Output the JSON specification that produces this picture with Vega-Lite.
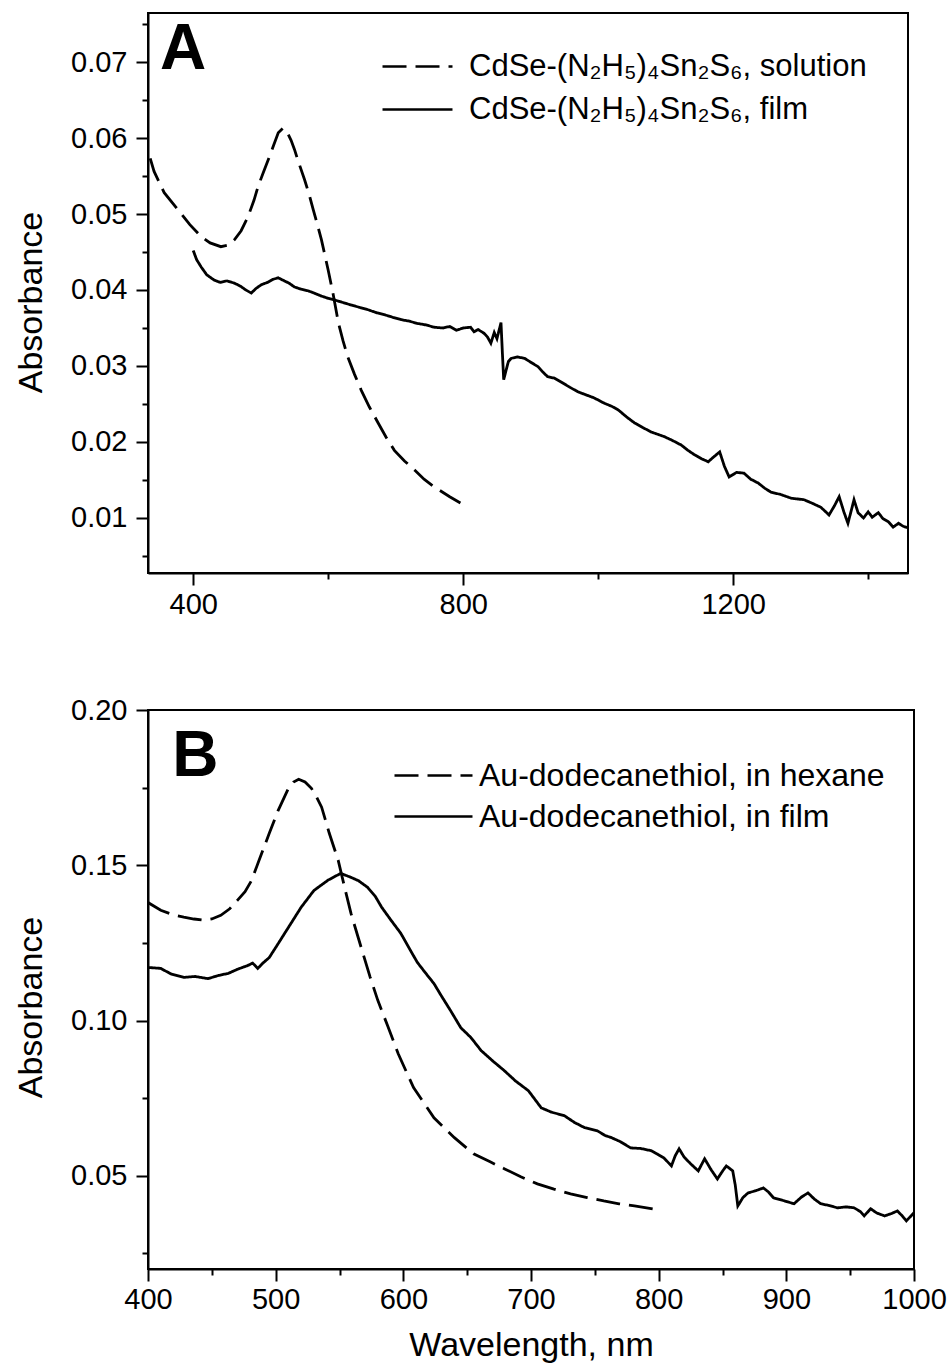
{
  "$schema": "https://vega.github.io/schema/vega-lite/v6.json",
  "padding": {"left": 13, "top": 9, "right": 5, "bottom": 5},
  "spacing": 75,
  "resolve": {"scale": {"strokeDash": "independent"}, "legend": {"strokeDash": "independent"}},
  "config": {
    "font": "Liberation Sans",
    "view": {"stroke": "black", "strokeWidth": 2},
    "axis": {
      "domainColor": "black", "domainWidth": 2, "tickColor": "black", "tickWidth": 2, "tickCount": 60,
      "labelFontSize": 29, "labelColor": "black", "labelFont": "Liberation Sans",
      "titleFontSize": 34, "titleFontWeight": "normal", "titleColor": "black", "titleFont": "Liberation Sans",
      "grid": false, "labelFlush": false, "labelOverlap": false
    },
    "legend": {
      "orient": "none", "title": null, "labelFontSize": 31, "labelFont": "Liberation Sans", "labelColor": "black",
      "symbolStrokeWidth": 2.5, "symbolStrokeColor": "black", "labelLimit": 0, "padding": 0
    }
  },
  "datasets": {
    "A": [
      {"series": "CdSe-(N₂H₅)₄Sn₂S₆, solution", "wl": 323, "abs": 0.0615},
      {"series": "CdSe-(N₂H₅)₄Sn₂S₆, solution", "wl": 330, "abs": 0.0592},
      {"series": "CdSe-(N₂H₅)₄Sn₂S₆, solution", "wl": 342, "abs": 0.0556},
      {"series": "CdSe-(N₂H₅)₄Sn₂S₆, solution", "wl": 357, "abs": 0.0528},
      {"series": "CdSe-(N₂H₅)₄Sn₂S₆, solution", "wl": 378, "abs": 0.0505},
      {"series": "CdSe-(N₂H₅)₄Sn₂S₆, solution", "wl": 395, "abs": 0.0486},
      {"series": "CdSe-(N₂H₅)₄Sn₂S₆, solution", "wl": 412, "abs": 0.0470},
      {"series": "CdSe-(N₂H₅)₄Sn₂S₆, solution", "wl": 425, "abs": 0.0462},
      {"series": "CdSe-(N₂H₅)₄Sn₂S₆, solution", "wl": 441, "abs": 0.0457},
      {"series": "CdSe-(N₂H₅)₄Sn₂S₆, solution", "wl": 452, "abs": 0.0459},
      {"series": "CdSe-(N₂H₅)₄Sn₂S₆, solution", "wl": 461, "abs": 0.0466},
      {"series": "CdSe-(N₂H₅)₄Sn₂S₆, solution", "wl": 471, "abs": 0.0478},
      {"series": "CdSe-(N₂H₅)₄Sn₂S₆, solution", "wl": 481, "abs": 0.0496},
      {"series": "CdSe-(N₂H₅)₄Sn₂S₆, solution", "wl": 490, "abs": 0.0518},
      {"series": "CdSe-(N₂H₅)₄Sn₂S₆, solution", "wl": 496, "abs": 0.0536},
      {"series": "CdSe-(N₂H₅)₄Sn₂S₆, solution", "wl": 504, "abs": 0.0555},
      {"series": "CdSe-(N₂H₅)₄Sn₂S₆, solution", "wl": 511, "abs": 0.0571},
      {"series": "CdSe-(N₂H₅)₄Sn₂S₆, solution", "wl": 519, "abs": 0.0590},
      {"series": "CdSe-(N₂H₅)₄Sn₂S₆, solution", "wl": 526, "abs": 0.0607},
      {"series": "CdSe-(N₂H₅)₄Sn₂S₆, solution", "wl": 533, "abs": 0.0613},
      {"series": "CdSe-(N₂H₅)₄Sn₂S₆, solution", "wl": 540, "abs": 0.0606},
      {"series": "CdSe-(N₂H₅)₄Sn₂S₆, solution", "wl": 545, "abs": 0.0597},
      {"series": "CdSe-(N₂H₅)₄Sn₂S₆, solution", "wl": 550, "abs": 0.0585},
      {"series": "CdSe-(N₂H₅)₄Sn₂S₆, solution", "wl": 555, "abs": 0.0571},
      {"series": "CdSe-(N₂H₅)₄Sn₂S₆, solution", "wl": 565, "abs": 0.0545},
      {"series": "CdSe-(N₂H₅)₄Sn₂S₆, solution", "wl": 572, "abs": 0.0525},
      {"series": "CdSe-(N₂H₅)₄Sn₂S₆, solution", "wl": 578, "abs": 0.0505},
      {"series": "CdSe-(N₂H₅)₄Sn₂S₆, solution", "wl": 584, "abs": 0.0486},
      {"series": "CdSe-(N₂H₅)₄Sn₂S₆, solution", "wl": 590, "abs": 0.0466},
      {"series": "CdSe-(N₂H₅)₄Sn₂S₆, solution", "wl": 600, "abs": 0.0426},
      {"series": "CdSe-(N₂H₅)₄Sn₂S₆, solution", "wl": 607, "abs": 0.0396},
      {"series": "CdSe-(N₂H₅)₄Sn₂S₆, solution", "wl": 615, "abs": 0.0357},
      {"series": "CdSe-(N₂H₅)₄Sn₂S₆, solution", "wl": 622, "abs": 0.0333},
      {"series": "CdSe-(N₂H₅)₄Sn₂S₆, solution", "wl": 629, "abs": 0.0312},
      {"series": "CdSe-(N₂H₅)₄Sn₂S₆, solution", "wl": 639, "abs": 0.0289},
      {"series": "CdSe-(N₂H₅)₄Sn₂S₆, solution", "wl": 649, "abs": 0.0268},
      {"series": "CdSe-(N₂H₅)₄Sn₂S₆, solution", "wl": 661, "abs": 0.0246},
      {"series": "CdSe-(N₂H₅)₄Sn₂S₆, solution", "wl": 674, "abs": 0.0225},
      {"series": "CdSe-(N₂H₅)₄Sn₂S₆, solution", "wl": 686, "abs": 0.0206},
      {"series": "CdSe-(N₂H₅)₄Sn₂S₆, solution", "wl": 698, "abs": 0.0189},
      {"series": "CdSe-(N₂H₅)₄Sn₂S₆, solution", "wl": 713, "abs": 0.0175},
      {"series": "CdSe-(N₂H₅)₄Sn₂S₆, solution", "wl": 728, "abs": 0.0163},
      {"series": "CdSe-(N₂H₅)₄Sn₂S₆, solution", "wl": 742, "abs": 0.0151},
      {"series": "CdSe-(N₂H₅)₄Sn₂S₆, solution", "wl": 757, "abs": 0.0141},
      {"series": "CdSe-(N₂H₅)₄Sn₂S₆, solution", "wl": 780, "abs": 0.0128},
      {"series": "CdSe-(N₂H₅)₄Sn₂S₆, solution", "wl": 801, "abs": 0.0117},
      {"series": "CdSe-(N₂H₅)₄Sn₂S₆, film", "wl": 400, "abs": 0.0452},
      {"series": "CdSe-(N₂H₅)₄Sn₂S₆, film", "wl": 405, "abs": 0.0440},
      {"series": "CdSe-(N₂H₅)₄Sn₂S₆, film", "wl": 412, "abs": 0.0430},
      {"series": "CdSe-(N₂H₅)₄Sn₂S₆, film", "wl": 420, "abs": 0.0420},
      {"series": "CdSe-(N₂H₅)₄Sn₂S₆, film", "wl": 431, "abs": 0.0413},
      {"series": "CdSe-(N₂H₅)₄Sn₂S₆, film", "wl": 440, "abs": 0.0410},
      {"series": "CdSe-(N₂H₅)₄Sn₂S₆, film", "wl": 450, "abs": 0.0412},
      {"series": "CdSe-(N₂H₅)₄Sn₂S₆, film", "wl": 461, "abs": 0.0409},
      {"series": "CdSe-(N₂H₅)₄Sn₂S₆, film", "wl": 470, "abs": 0.0405},
      {"series": "CdSe-(N₂H₅)₄Sn₂S₆, film", "wl": 478, "abs": 0.0400},
      {"series": "CdSe-(N₂H₅)₄Sn₂S₆, film", "wl": 486, "abs": 0.0396},
      {"series": "CdSe-(N₂H₅)₄Sn₂S₆, film", "wl": 493, "abs": 0.0402},
      {"series": "CdSe-(N₂H₅)₄Sn₂S₆, film", "wl": 501, "abs": 0.0407},
      {"series": "CdSe-(N₂H₅)₄Sn₂S₆, film", "wl": 510, "abs": 0.0410},
      {"series": "CdSe-(N₂H₅)₄Sn₂S₆, film", "wl": 518, "abs": 0.0414},
      {"series": "CdSe-(N₂H₅)₄Sn₂S₆, film", "wl": 526, "abs": 0.0416},
      {"series": "CdSe-(N₂H₅)₄Sn₂S₆, film", "wl": 535, "abs": 0.0412},
      {"series": "CdSe-(N₂H₅)₄Sn₂S₆, film", "wl": 542, "abs": 0.0409},
      {"series": "CdSe-(N₂H₅)₄Sn₂S₆, film", "wl": 550, "abs": 0.0404},
      {"series": "CdSe-(N₂H₅)₄Sn₂S₆, film", "wl": 560, "abs": 0.0401},
      {"series": "CdSe-(N₂H₅)₄Sn₂S₆, film", "wl": 570, "abs": 0.0399},
      {"series": "CdSe-(N₂H₅)₄Sn₂S₆, film", "wl": 579, "abs": 0.0396},
      {"series": "CdSe-(N₂H₅)₄Sn₂S₆, film", "wl": 590, "abs": 0.0392},
      {"series": "CdSe-(N₂H₅)₄Sn₂S₆, film", "wl": 600, "abs": 0.0389},
      {"series": "CdSe-(N₂H₅)₄Sn₂S₆, film", "wl": 609, "abs": 0.0387},
      {"series": "CdSe-(N₂H₅)₄Sn₂S₆, film", "wl": 620, "abs": 0.0384},
      {"series": "CdSe-(N₂H₅)₄Sn₂S₆, film", "wl": 635, "abs": 0.0380},
      {"series": "CdSe-(N₂H₅)₄Sn₂S₆, film", "wl": 647, "abs": 0.0377},
      {"series": "CdSe-(N₂H₅)₄Sn₂S₆, film", "wl": 659, "abs": 0.0374},
      {"series": "CdSe-(N₂H₅)₄Sn₂S₆, film", "wl": 672, "abs": 0.0370},
      {"series": "CdSe-(N₂H₅)₄Sn₂S₆, film", "wl": 685, "abs": 0.0367},
      {"series": "CdSe-(N₂H₅)₄Sn₂S₆, film", "wl": 696, "abs": 0.0364},
      {"series": "CdSe-(N₂H₅)₄Sn₂S₆, film", "wl": 708, "abs": 0.0361},
      {"series": "CdSe-(N₂H₅)₄Sn₂S₆, film", "wl": 720, "abs": 0.0359},
      {"series": "CdSe-(N₂H₅)₄Sn₂S₆, film", "wl": 732, "abs": 0.0356},
      {"series": "CdSe-(N₂H₅)₄Sn₂S₆, film", "wl": 745, "abs": 0.0354},
      {"series": "CdSe-(N₂H₅)₄Sn₂S₆, film", "wl": 757, "abs": 0.0351},
      {"series": "CdSe-(N₂H₅)₄Sn₂S₆, film", "wl": 770, "abs": 0.0350},
      {"series": "CdSe-(N₂H₅)₄Sn₂S₆, film", "wl": 780, "abs": 0.0352},
      {"series": "CdSe-(N₂H₅)₄Sn₂S₆, film", "wl": 790, "abs": 0.0347},
      {"series": "CdSe-(N₂H₅)₄Sn₂S₆, film", "wl": 800, "abs": 0.0350},
      {"series": "CdSe-(N₂H₅)₄Sn₂S₆, film", "wl": 811, "abs": 0.0351},
      {"series": "CdSe-(N₂H₅)₄Sn₂S₆, film", "wl": 816, "abs": 0.0345},
      {"series": "CdSe-(N₂H₅)₄Sn₂S₆, film", "wl": 822, "abs": 0.0348},
      {"series": "CdSe-(N₂H₅)₄Sn₂S₆, film", "wl": 831, "abs": 0.0343},
      {"series": "CdSe-(N₂H₅)₄Sn₂S₆, film", "wl": 836, "abs": 0.0338},
      {"series": "CdSe-(N₂H₅)₄Sn₂S₆, film", "wl": 841, "abs": 0.0330},
      {"series": "CdSe-(N₂H₅)₄Sn₂S₆, film", "wl": 846, "abs": 0.0344},
      {"series": "CdSe-(N₂H₅)₄Sn₂S₆, film", "wl": 850, "abs": 0.0336},
      {"series": "CdSe-(N₂H₅)₄Sn₂S₆, film", "wl": 856, "abs": 0.0357},
      {"series": "CdSe-(N₂H₅)₄Sn₂S₆, film", "wl": 858, "abs": 0.0318},
      {"series": "CdSe-(N₂H₅)₄Sn₂S₆, film", "wl": 860, "abs": 0.0282},
      {"series": "CdSe-(N₂H₅)₄Sn₂S₆, film", "wl": 864, "abs": 0.0296},
      {"series": "CdSe-(N₂H₅)₄Sn₂S₆, film", "wl": 867, "abs": 0.0306},
      {"series": "CdSe-(N₂H₅)₄Sn₂S₆, film", "wl": 871, "abs": 0.0310},
      {"series": "CdSe-(N₂H₅)₄Sn₂S₆, film", "wl": 880, "abs": 0.0312},
      {"series": "CdSe-(N₂H₅)₄Sn₂S₆, film", "wl": 891, "abs": 0.0310},
      {"series": "CdSe-(N₂H₅)₄Sn₂S₆, film", "wl": 900, "abs": 0.0305},
      {"series": "CdSe-(N₂H₅)₄Sn₂S₆, film", "wl": 911, "abs": 0.0299},
      {"series": "CdSe-(N₂H₅)₄Sn₂S₆, film", "wl": 918, "abs": 0.0292},
      {"series": "CdSe-(N₂H₅)₄Sn₂S₆, film", "wl": 925, "abs": 0.0286},
      {"series": "CdSe-(N₂H₅)₄Sn₂S₆, film", "wl": 935, "abs": 0.0284},
      {"series": "CdSe-(N₂H₅)₄Sn₂S₆, film", "wl": 945, "abs": 0.0279},
      {"series": "CdSe-(N₂H₅)₄Sn₂S₆, film", "wl": 958, "abs": 0.0272},
      {"series": "CdSe-(N₂H₅)₄Sn₂S₆, film", "wl": 970, "abs": 0.0266},
      {"series": "CdSe-(N₂H₅)₄Sn₂S₆, film", "wl": 982, "abs": 0.0262},
      {"series": "CdSe-(N₂H₅)₄Sn₂S₆, film", "wl": 994, "abs": 0.0258},
      {"series": "CdSe-(N₂H₅)₄Sn₂S₆, film", "wl": 1009, "abs": 0.0251},
      {"series": "CdSe-(N₂H₅)₄Sn₂S₆, film", "wl": 1020, "abs": 0.0247},
      {"series": "CdSe-(N₂H₅)₄Sn₂S₆, film", "wl": 1030, "abs": 0.0242},
      {"series": "CdSe-(N₂H₅)₄Sn₂S₆, film", "wl": 1042, "abs": 0.0233},
      {"series": "CdSe-(N₂H₅)₄Sn₂S₆, film", "wl": 1054, "abs": 0.0225},
      {"series": "CdSe-(N₂H₅)₄Sn₂S₆, film", "wl": 1066, "abs": 0.0219},
      {"series": "CdSe-(N₂H₅)₄Sn₂S₆, film", "wl": 1079, "abs": 0.0213},
      {"series": "CdSe-(N₂H₅)₄Sn₂S₆, film", "wl": 1098, "abs": 0.0207},
      {"series": "CdSe-(N₂H₅)₄Sn₂S₆, film", "wl": 1110, "abs": 0.0202},
      {"series": "CdSe-(N₂H₅)₄Sn₂S₆, film", "wl": 1123, "abs": 0.0196},
      {"series": "CdSe-(N₂H₅)₄Sn₂S₆, film", "wl": 1133, "abs": 0.0189},
      {"series": "CdSe-(N₂H₅)₄Sn₂S₆, film", "wl": 1143, "abs": 0.0183},
      {"series": "CdSe-(N₂H₅)₄Sn₂S₆, film", "wl": 1153, "abs": 0.0178},
      {"series": "CdSe-(N₂H₅)₄Sn₂S₆, film", "wl": 1163, "abs": 0.0174},
      {"series": "CdSe-(N₂H₅)₄Sn₂S₆, film", "wl": 1172, "abs": 0.0181},
      {"series": "CdSe-(N₂H₅)₄Sn₂S₆, film", "wl": 1180, "abs": 0.0187},
      {"series": "CdSe-(N₂H₅)₄Sn₂S₆, film", "wl": 1187, "abs": 0.0168},
      {"series": "CdSe-(N₂H₅)₄Sn₂S₆, film", "wl": 1194, "abs": 0.0154},
      {"series": "CdSe-(N₂H₅)₄Sn₂S₆, film", "wl": 1205, "abs": 0.0160},
      {"series": "CdSe-(N₂H₅)₄Sn₂S₆, film", "wl": 1216, "abs": 0.0159},
      {"series": "CdSe-(N₂H₅)₄Sn₂S₆, film", "wl": 1226, "abs": 0.0151},
      {"series": "CdSe-(N₂H₅)₄Sn₂S₆, film", "wl": 1237, "abs": 0.0146},
      {"series": "CdSe-(N₂H₅)₄Sn₂S₆, film", "wl": 1247, "abs": 0.0139},
      {"series": "CdSe-(N₂H₅)₄Sn₂S₆, film", "wl": 1256, "abs": 0.0134},
      {"series": "CdSe-(N₂H₅)₄Sn₂S₆, film", "wl": 1270, "abs": 0.0131},
      {"series": "CdSe-(N₂H₅)₄Sn₂S₆, film", "wl": 1286, "abs": 0.0126},
      {"series": "CdSe-(N₂H₅)₄Sn₂S₆, film", "wl": 1305, "abs": 0.0124},
      {"series": "CdSe-(N₂H₅)₄Sn₂S₆, film", "wl": 1318, "abs": 0.0119},
      {"series": "CdSe-(N₂H₅)₄Sn₂S₆, film", "wl": 1330, "abs": 0.0114},
      {"series": "CdSe-(N₂H₅)₄Sn₂S₆, film", "wl": 1342, "abs": 0.0104},
      {"series": "CdSe-(N₂H₅)₄Sn₂S₆, film", "wl": 1350, "abs": 0.0116},
      {"series": "CdSe-(N₂H₅)₄Sn₂S₆, film", "wl": 1357, "abs": 0.0128},
      {"series": "CdSe-(N₂H₅)₄Sn₂S₆, film", "wl": 1364, "abs": 0.0108},
      {"series": "CdSe-(N₂H₅)₄Sn₂S₆, film", "wl": 1370, "abs": 0.0093},
      {"series": "CdSe-(N₂H₅)₄Sn₂S₆, film", "wl": 1375, "abs": 0.0110},
      {"series": "CdSe-(N₂H₅)₄Sn₂S₆, film", "wl": 1379, "abs": 0.0124},
      {"series": "CdSe-(N₂H₅)₄Sn₂S₆, film", "wl": 1385, "abs": 0.0107},
      {"series": "CdSe-(N₂H₅)₄Sn₂S₆, film", "wl": 1393, "abs": 0.0100},
      {"series": "CdSe-(N₂H₅)₄Sn₂S₆, film", "wl": 1400, "abs": 0.0108},
      {"series": "CdSe-(N₂H₅)₄Sn₂S₆, film", "wl": 1406, "abs": 0.0101},
      {"series": "CdSe-(N₂H₅)₄Sn₂S₆, film", "wl": 1415, "abs": 0.0107},
      {"series": "CdSe-(N₂H₅)₄Sn₂S₆, film", "wl": 1422, "abs": 0.0099},
      {"series": "CdSe-(N₂H₅)₄Sn₂S₆, film", "wl": 1430, "abs": 0.0095},
      {"series": "CdSe-(N₂H₅)₄Sn₂S₆, film", "wl": 1437, "abs": 0.0088},
      {"series": "CdSe-(N₂H₅)₄Sn₂S₆, film", "wl": 1445, "abs": 0.0093},
      {"series": "CdSe-(N₂H₅)₄Sn₂S₆, film", "wl": 1452, "abs": 0.0089},
      {"series": "CdSe-(N₂H₅)₄Sn₂S₆, film", "wl": 1459, "abs": 0.0087}
    ],
    "B": [
      {"series": "Au-dodecanethiol, in hexane", "wl": 400, "abs": 0.1380},
      {"series": "Au-dodecanethiol, in hexane", "wl": 410, "abs": 0.1355},
      {"series": "Au-dodecanethiol, in hexane", "wl": 420, "abs": 0.1340},
      {"series": "Au-dodecanethiol, in hexane", "wl": 428, "abs": 0.1333},
      {"series": "Au-dodecanethiol, in hexane", "wl": 436, "abs": 0.1327},
      {"series": "Au-dodecanethiol, in hexane", "wl": 444, "abs": 0.1323},
      {"series": "Au-dodecanethiol, in hexane", "wl": 450, "abs": 0.1327},
      {"series": "Au-dodecanethiol, in hexane", "wl": 457, "abs": 0.1339},
      {"series": "Au-dodecanethiol, in hexane", "wl": 464, "abs": 0.1360},
      {"series": "Au-dodecanethiol, in hexane", "wl": 470, "abs": 0.1387},
      {"series": "Au-dodecanethiol, in hexane", "wl": 476, "abs": 0.1415},
      {"series": "Au-dodecanethiol, in hexane", "wl": 481, "abs": 0.1450},
      {"series": "Au-dodecanethiol, in hexane", "wl": 487, "abs": 0.1516},
      {"series": "Au-dodecanethiol, in hexane", "wl": 495, "abs": 0.1603},
      {"series": "Au-dodecanethiol, in hexane", "wl": 502, "abs": 0.1677},
      {"series": "Au-dodecanethiol, in hexane", "wl": 510, "abs": 0.1748},
      {"series": "Au-dodecanethiol, in hexane", "wl": 514, "abs": 0.1768},
      {"series": "Au-dodecanethiol, in hexane", "wl": 518, "abs": 0.1777},
      {"series": "Au-dodecanethiol, in hexane", "wl": 523, "abs": 0.1768},
      {"series": "Au-dodecanethiol, in hexane", "wl": 528, "abs": 0.1748},
      {"series": "Au-dodecanethiol, in hexane", "wl": 532, "abs": 0.1720},
      {"series": "Au-dodecanethiol, in hexane", "wl": 536, "abs": 0.1687},
      {"series": "Au-dodecanethiol, in hexane", "wl": 542, "abs": 0.1603},
      {"series": "Au-dodecanethiol, in hexane", "wl": 549, "abs": 0.1516},
      {"series": "Au-dodecanethiol, in hexane", "wl": 554, "abs": 0.1429},
      {"series": "Au-dodecanethiol, in hexane", "wl": 559, "abs": 0.1345},
      {"series": "Au-dodecanethiol, in hexane", "wl": 567, "abs": 0.1235},
      {"series": "Au-dodecanethiol, in hexane", "wl": 574, "abs": 0.1140},
      {"series": "Au-dodecanethiol, in hexane", "wl": 580, "abs": 0.1065},
      {"series": "Au-dodecanethiol, in hexane", "wl": 588, "abs": 0.0980},
      {"series": "Au-dodecanethiol, in hexane", "wl": 596, "abs": 0.0893},
      {"series": "Au-dodecanethiol, in hexane", "wl": 608, "abs": 0.0784},
      {"series": "Au-dodecanethiol, in hexane", "wl": 624, "abs": 0.0687},
      {"series": "Au-dodecanethiol, in hexane", "wl": 640, "abs": 0.0623},
      {"series": "Au-dodecanethiol, in hexane", "wl": 655, "abs": 0.0571},
      {"series": "Au-dodecanethiol, in hexane", "wl": 668, "abs": 0.0545},
      {"series": "Au-dodecanethiol, in hexane", "wl": 679, "abs": 0.0523},
      {"series": "Au-dodecanethiol, in hexane", "wl": 692, "abs": 0.0497},
      {"series": "Au-dodecanethiol, in hexane", "wl": 705, "abs": 0.0474},
      {"series": "Au-dodecanethiol, in hexane", "wl": 718, "abs": 0.0457},
      {"series": "Au-dodecanethiol, in hexane", "wl": 731, "abs": 0.0442},
      {"series": "Au-dodecanethiol, in hexane", "wl": 744, "abs": 0.0430},
      {"series": "Au-dodecanethiol, in hexane", "wl": 757, "abs": 0.0419},
      {"series": "Au-dodecanethiol, in hexane", "wl": 769, "abs": 0.0410},
      {"series": "Au-dodecanethiol, in hexane", "wl": 781, "abs": 0.0403},
      {"series": "Au-dodecanethiol, in hexane", "wl": 800, "abs": 0.0390},
      {"series": "Au-dodecanethiol, in film", "wl": 400, "abs": 0.1171},
      {"series": "Au-dodecanethiol, in film", "wl": 410, "abs": 0.1168},
      {"series": "Au-dodecanethiol, in film", "wl": 418, "abs": 0.1150},
      {"series": "Au-dodecanethiol, in film", "wl": 428, "abs": 0.1139},
      {"series": "Au-dodecanethiol, in film", "wl": 437, "abs": 0.1142},
      {"series": "Au-dodecanethiol, in film", "wl": 447, "abs": 0.1135},
      {"series": "Au-dodecanethiol, in film", "wl": 455, "abs": 0.1145},
      {"series": "Au-dodecanethiol, in film", "wl": 463, "abs": 0.1152},
      {"series": "Au-dodecanethiol, in film", "wl": 470, "abs": 0.1165},
      {"series": "Au-dodecanethiol, in film", "wl": 478, "abs": 0.1177},
      {"series": "Au-dodecanethiol, in film", "wl": 482, "abs": 0.1185},
      {"series": "Au-dodecanethiol, in film", "wl": 486, "abs": 0.1168},
      {"series": "Au-dodecanethiol, in film", "wl": 490, "abs": 0.1185},
      {"series": "Au-dodecanethiol, in film", "wl": 495, "abs": 0.1203},
      {"series": "Au-dodecanethiol, in film", "wl": 502, "abs": 0.1248},
      {"series": "Au-dodecanethiol, in film", "wl": 510, "abs": 0.1300},
      {"series": "Au-dodecanethiol, in film", "wl": 520, "abs": 0.1365},
      {"series": "Au-dodecanethiol, in film", "wl": 530, "abs": 0.1419},
      {"series": "Au-dodecanethiol, in film", "wl": 541, "abs": 0.1452},
      {"series": "Au-dodecanethiol, in film", "wl": 551, "abs": 0.1474},
      {"series": "Au-dodecanethiol, in film", "wl": 559, "abs": 0.1461},
      {"series": "Au-dodecanethiol, in film", "wl": 565, "abs": 0.1450},
      {"series": "Au-dodecanethiol, in film", "wl": 572, "abs": 0.1429},
      {"series": "Au-dodecanethiol, in film", "wl": 578, "abs": 0.1400},
      {"series": "Au-dodecanethiol, in film", "wl": 583, "abs": 0.1365},
      {"series": "Au-dodecanethiol, in film", "wl": 590, "abs": 0.1325},
      {"series": "Au-dodecanethiol, in film", "wl": 598, "abs": 0.1281},
      {"series": "Au-dodecanethiol, in film", "wl": 605, "abs": 0.1230},
      {"series": "Au-dodecanethiol, in film", "wl": 611, "abs": 0.1187},
      {"series": "Au-dodecanethiol, in film", "wl": 618, "abs": 0.1150},
      {"series": "Au-dodecanethiol, in film", "wl": 624, "abs": 0.1119},
      {"series": "Au-dodecanethiol, in film", "wl": 630, "abs": 0.1078},
      {"series": "Au-dodecanethiol, in film", "wl": 637, "abs": 0.1032},
      {"series": "Au-dodecanethiol, in film", "wl": 645, "abs": 0.0977},
      {"series": "Au-dodecanethiol, in film", "wl": 653, "abs": 0.0945},
      {"series": "Au-dodecanethiol, in film", "wl": 661, "abs": 0.0903},
      {"series": "Au-dodecanethiol, in film", "wl": 670, "abs": 0.0870},
      {"series": "Au-dodecanethiol, in film", "wl": 679, "abs": 0.0839},
      {"series": "Au-dodecanethiol, in film", "wl": 688, "abs": 0.0805},
      {"series": "Au-dodecanethiol, in film", "wl": 698, "abs": 0.0774},
      {"series": "Au-dodecanethiol, in film", "wl": 708, "abs": 0.0719},
      {"series": "Au-dodecanethiol, in film", "wl": 716, "abs": 0.0705},
      {"series": "Au-dodecanethiol, in film", "wl": 726, "abs": 0.0694},
      {"series": "Au-dodecanethiol, in film", "wl": 734, "abs": 0.0672},
      {"series": "Au-dodecanethiol, in film", "wl": 742, "abs": 0.0655},
      {"series": "Au-dodecanethiol, in film", "wl": 752, "abs": 0.0645},
      {"series": "Au-dodecanethiol, in film", "wl": 758, "abs": 0.0630},
      {"series": "Au-dodecanethiol, in film", "wl": 763, "abs": 0.0623},
      {"series": "Au-dodecanethiol, in film", "wl": 770, "abs": 0.0610},
      {"series": "Au-dodecanethiol, in film", "wl": 778, "abs": 0.0590},
      {"series": "Au-dodecanethiol, in film", "wl": 786, "abs": 0.0588},
      {"series": "Au-dodecanethiol, in film", "wl": 794, "abs": 0.0581},
      {"series": "Au-dodecanethiol, in film", "wl": 799, "abs": 0.0570},
      {"series": "Au-dodecanethiol, in film", "wl": 804, "abs": 0.0558},
      {"series": "Au-dodecanethiol, in film", "wl": 810, "abs": 0.0532},
      {"series": "Au-dodecanethiol, in film", "wl": 813, "abs": 0.0565},
      {"series": "Au-dodecanethiol, in film", "wl": 816, "abs": 0.0587},
      {"series": "Au-dodecanethiol, in film", "wl": 820, "abs": 0.0560},
      {"series": "Au-dodecanethiol, in film", "wl": 825, "abs": 0.0539},
      {"series": "Au-dodecanethiol, in film", "wl": 831, "abs": 0.0516},
      {"series": "Au-dodecanethiol, in film", "wl": 836, "abs": 0.0555},
      {"series": "Au-dodecanethiol, in film", "wl": 841, "abs": 0.0520},
      {"series": "Au-dodecanethiol, in film", "wl": 846, "abs": 0.0490},
      {"series": "Au-dodecanethiol, in film", "wl": 850, "abs": 0.0515},
      {"series": "Au-dodecanethiol, in film", "wl": 853, "abs": 0.0532},
      {"series": "Au-dodecanethiol, in film", "wl": 858, "abs": 0.0516},
      {"series": "Au-dodecanethiol, in film", "wl": 860, "abs": 0.0470},
      {"series": "Au-dodecanethiol, in film", "wl": 862, "abs": 0.0403},
      {"series": "Au-dodecanethiol, in film", "wl": 866, "abs": 0.0430},
      {"series": "Au-dodecanethiol, in film", "wl": 870, "abs": 0.0445},
      {"series": "Au-dodecanethiol, in film", "wl": 876, "abs": 0.0452},
      {"series": "Au-dodecanethiol, in film", "wl": 882, "abs": 0.0461},
      {"series": "Au-dodecanethiol, in film", "wl": 886, "abs": 0.0448},
      {"series": "Au-dodecanethiol, in film", "wl": 890, "abs": 0.0429},
      {"series": "Au-dodecanethiol, in film", "wl": 898, "abs": 0.0420},
      {"series": "Au-dodecanethiol, in film", "wl": 906, "abs": 0.0410},
      {"series": "Au-dodecanethiol, in film", "wl": 912, "abs": 0.0432},
      {"series": "Au-dodecanethiol, in film", "wl": 917, "abs": 0.0445},
      {"series": "Au-dodecanethiol, in film", "wl": 922, "abs": 0.0425},
      {"series": "Au-dodecanethiol, in film", "wl": 927, "abs": 0.0410},
      {"series": "Au-dodecanethiol, in film", "wl": 933, "abs": 0.0405},
      {"series": "Au-dodecanethiol, in film", "wl": 940, "abs": 0.0397},
      {"series": "Au-dodecanethiol, in film", "wl": 947, "abs": 0.0400},
      {"series": "Au-dodecanethiol, in film", "wl": 953, "abs": 0.0397},
      {"series": "Au-dodecanethiol, in film", "wl": 958, "abs": 0.0385},
      {"series": "Au-dodecanethiol, in film", "wl": 961, "abs": 0.0371},
      {"series": "Au-dodecanethiol, in film", "wl": 966, "abs": 0.0394},
      {"series": "Au-dodecanethiol, in film", "wl": 971, "abs": 0.0380},
      {"series": "Au-dodecanethiol, in film", "wl": 977, "abs": 0.0371},
      {"series": "Au-dodecanethiol, in film", "wl": 982, "abs": 0.0378},
      {"series": "Au-dodecanethiol, in film", "wl": 987, "abs": 0.0387},
      {"series": "Au-dodecanethiol, in film", "wl": 991, "abs": 0.0370},
      {"series": "Au-dodecanethiol, in film", "wl": 994, "abs": 0.0355},
      {"series": "Au-dodecanethiol, in film", "wl": 1000, "abs": 0.0381}
    ]
  },
  "vconcat": [
    {
      "width": 760,
      "height": 560,
      "layer": [
        {
          "data": {"name": "A"},
          "mark": {"type": "line", "color": "black", "strokeWidth": 2.8, "clip": true},
          "encoding": {
            "x": {
              "field": "wl", "type": "quantitative",
              "scale": {"domain": [333, 1459], "nice": false, "zero": false},
              "axis": {
                "title": null, "values": [400, 600, 800, 1000, 1200, 1400],
                "labelExpr": "datum.value % 400 === 0 ? format(datum.value, 'd') : ''",
                "tickSize": {"condition": {"test": "datum.value % 400 === 0", "value": 12}, "value": 6},
                "labelPadding": 5
              }
            },
            "y": {
              "field": "abs", "type": "quantitative",
              "scale": {"domain": [0.00276, 0.07645], "nice": false, "zero": false},
              "axis": {
                "title": "Absorbance", "titleY": 289,
                "values": [0.005, 0.01, 0.015, 0.02, 0.025, 0.03, 0.035, 0.04, 0.045, 0.05, 0.055, 0.06, 0.065, 0.07, 0.075],
                "labelExpr": "round(datum.value * 200) % 2 === 0 ? format(datum.value, '.2f') : ''",
                "tickSize": {"condition": {"test": "round(datum.value * 200) % 2 === 0", "value": 12}, "value": 6},
                "labelPadding": 9, "titlePadding": 22
              }
            },
            "strokeDash": {
              "field": "series", "type": "nominal",
              "scale": {"domain": ["CdSe-(N₂H₅)₄Sn₂S₆, solution", "CdSe-(N₂H₅)₄Sn₂S₆, film"], "range": [[24, 9], [1, 0]]},
              "legend": {"legendX": 244, "legendY": 28, "symbolType": "M-1.458,0H1.458", "symbolSize": 2304, "labelOffset": 26}
            }
          }
        },
        {
          "data": {"values": [{"letter": "A", "wl": 385, "abs": 0.0716}]},
          "mark": {"type": "text", "fontSize": 64, "fontWeight": "bold", "font": "Liberation Sans", "align": "center", "baseline": "middle", "color": "black"},
          "encoding": {
            "x": {"field": "wl", "type": "quantitative"},
            "y": {"field": "abs", "type": "quantitative"},
            "text": {"field": "letter"}
          }
        }
      ]
    },
    {
      "width": 766,
      "height": 559,
      "layer": [
        {
          "data": {"name": "B"},
          "mark": {"type": "line", "color": "black", "strokeWidth": 2.8, "clip": true},
          "encoding": {
            "x": {
              "field": "wl", "type": "quantitative",
              "scale": {"domain": [400, 1000], "nice": false, "zero": false},
              "axis": {
                "title": "Wavelength, nm",
                "values": [400, 450, 500, 550, 600, 650, 700, 750, 800, 850, 900, 950, 1000],
                "labelExpr": "datum.value % 100 === 0 ? format(datum.value, 'd') : ''",
                "tickSize": {"condition": {"test": "datum.value % 100 === 0", "value": 12}, "value": 6},
                "labelPadding": 4, "titlePadding": 14
              }
            },
            "y": {
              "field": "abs", "type": "quantitative",
              "scale": {"domain": [0.02, 0.2], "nice": false, "zero": false},
              "axis": {
                "title": "Absorbance", "titleY": 297,
                "values": [0.025, 0.05, 0.075, 0.1, 0.125, 0.15, 0.175, 0.2],
                "labelExpr": "round(datum.value * 40) % 2 === 0 ? format(datum.value, '.2f') : ''",
                "tickSize": {"condition": {"test": "round(datum.value * 40) % 2 === 0", "value": 12}, "value": 6},
                "labelPadding": 9, "titlePadding": 22
              }
            },
            "strokeDash": {
              "field": "series", "type": "nominal",
              "scale": {"domain": ["Au-dodecanethiol, in hexane", "Au-dodecanethiol, in film"], "range": [[24, 9], [1, 0]]},
              "legend": {"legendX": 263, "legendY": 43, "symbolType": "M-1.857,0H1.857", "symbolSize": 1764, "labelOffset": 23, "labelFontSize": 32}
            }
          }
        },
        {
          "data": {"values": [{"letter": "B", "wl": 437, "abs": 0.1850}]},
          "mark": {"type": "text", "fontSize": 64, "fontWeight": "bold", "font": "Liberation Sans", "align": "center", "baseline": "middle", "color": "black"},
          "encoding": {
            "x": {"field": "wl", "type": "quantitative"},
            "y": {"field": "abs", "type": "quantitative"},
            "text": {"field": "letter"}
          }
        }
      ]
    }
  ]
}
